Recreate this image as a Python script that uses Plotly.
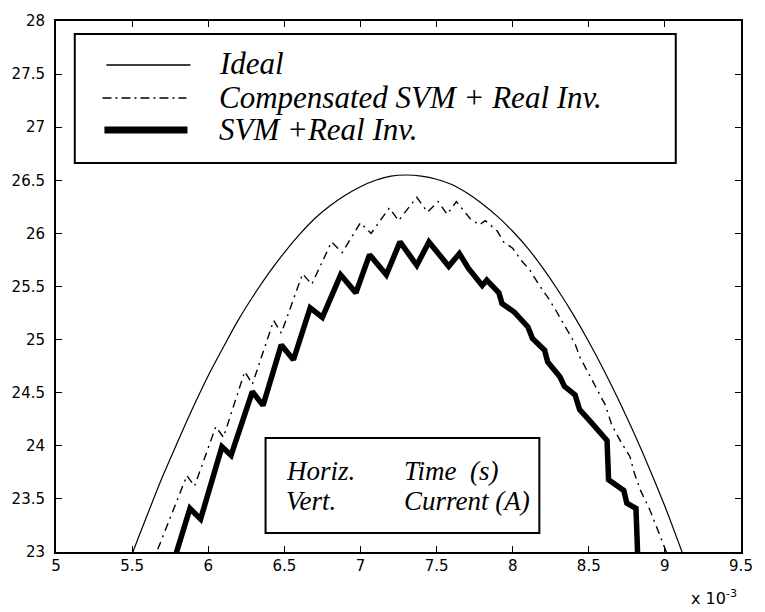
import plotly.graph_objects as go

# Phase current around the positive peak; time in ms (axis scaled x 10^-3 s)
ideal_t = [5.4, 5.5, 5.6, 5.7, 5.8, 5.9, 6.0, 6.1, 6.2, 6.3, 6.4, 6.5, 6.6, 6.7, 6.8,
           6.9, 7.0, 7.1, 7.2, 7.3, 7.4, 7.5, 7.6, 7.7, 7.8, 7.9, 8.0, 8.1, 8.2, 8.3,
           8.4, 8.5, 8.6, 8.7, 8.8, 8.9, 9.0, 9.1, 9.2]
ideal_i = [22.58, 22.98, 23.35, 23.71, 24.04, 24.36, 24.66, 24.93, 25.19, 25.42,
           25.63, 25.82, 25.99, 26.14, 26.26, 26.36, 26.44, 26.50, 26.54, 26.55,
           26.54, 26.51, 26.46, 26.38, 26.28, 26.16, 26.02, 25.86, 25.67, 25.46,
           25.23, 24.98, 24.71, 24.42, 24.11, 23.78, 23.43, 23.05, 22.66]

comp_t = [5.62, 5.86, 5.91, 6.05, 6.10, 6.24, 6.29, 6.43, 6.48, 6.62,
          6.68, 6.81, 6.88, 7.00, 7.07, 7.19, 7.25, 7.37, 7.44, 7.51,
          7.57, 7.63, 7.72, 7.78, 7.82, 7.90, 7.94, 8.00, 8.06, 8.11,
          8.18, 8.23, 8.29, 8.34, 8.41, 8.44, 8.50, 8.57, 8.61, 8.65,
          8.71, 8.77, 8.80, 8.84, 8.90, 8.95, 9.05]
comp_i = [22.85, 23.72, 23.62, 24.18, 24.08, 24.70, 24.58, 25.18, 25.06, 25.62,
          25.52, 25.92, 25.82, 26.10, 26.00, 26.24, 26.12, 26.34, 26.20, 26.30,
          26.18, 26.30, 26.14, 26.08, 26.12, 26.02, 25.92, 25.86, 25.74, 25.66,
          25.50, 25.40, 25.26, 25.14, 24.96, 24.84, 24.68, 24.50, 24.38, 24.20,
          24.04, 23.90, 23.74, 23.58, 23.40, 23.22, 22.85]

svm_t = [5.76, 5.88, 5.95, 6.09, 6.15, 6.29, 6.36, 6.48, 6.56, 6.67,
         6.75, 6.87, 6.97, 7.06, 7.17, 7.26, 7.37, 7.45, 7.58, 7.65,
         7.71, 7.80, 7.83, 7.91, 7.93, 8.01, 8.10, 8.13, 8.21, 8.23,
         8.31, 8.34, 8.41, 8.44, 8.51, 8.62, 8.63, 8.73, 8.75, 8.81,
         8.82, 8.82]
svm_i = [22.85, 23.41, 23.31, 23.99, 23.91, 24.51, 24.38, 24.95, 24.81, 25.30,
         25.21, 25.61, 25.44, 25.80, 25.61, 25.92, 25.70, 25.92, 25.69, 25.81,
         25.67, 25.51, 25.56, 25.44, 25.34, 25.26, 25.12, 25.01, 24.90, 24.79,
         24.65, 24.56, 24.48, 24.34, 24.23, 24.05, 23.68, 23.58, 23.46, 23.41,
         23.02, 22.80]

x_ticks = [5, 5.5, 6, 6.5, 7, 7.5, 8, 8.5, 9, 9.5]
x_labels = ["5", "5.5", "6", "6.5", "7", "7.5", "8", "8.5", "9", "9.5"]
y_ticks = [23, 23.5, 24, 24.5, 25, 25.5, 26, 26.5, 27, 27.5, 28]
y_labels = ["23", "23.5", "24", "24.5", "25", "25.5", "26", "26.5", "27", "27.5", "28"]

legend_names = ["Ideal", "Compensated SVM + Real Inv.", "SVM +Real Inv."]

W, H = 765, 612
L, R, T, B = 56, 749, 21, 552


def px_x(p):
    return (p - L) / (R - L)


def px_y(p):
    return (B - p) / (B - T)


DASHDOT = "8px,5px,2px,5px"

fig = go.Figure()
fig.add_trace(go.Scatter(x=ideal_t, y=ideal_i, mode="lines", line_shape="spline",
                         line=dict(color="black", width=1.2), name=legend_names[0]))
fig.add_trace(go.Scatter(x=comp_t, y=comp_i, mode="lines",
                         line=dict(color="black", width=1.4, dash=DASHDOT),
                         name=legend_names[1]))
fig.add_trace(go.Scatter(x=svm_t, y=svm_i, mode="lines",
                         line=dict(color="black", width=5.5), name=legend_names[2]))

axis_common = dict(showline=True, linecolor="black", linewidth=2, mirror="ticks",
                   ticks="inside", ticklen=6, tickwidth=1.2, tickcolor="black",
                   showgrid=False, zeroline=False,
                   tickfont=dict(family="DejaVu Sans", size=15, color="black"))

fig.update_xaxes(range=[5, 9.5], tickvals=x_ticks, ticktext=x_labels,
                 ticklabelstandoff=-1, **axis_common)
fig.update_yaxes(range=[23, 28], tickvals=y_ticks, ticktext=y_labels,
                 ticklabelstandoff=6, **axis_common)

shapes = []
annotations = []

# legend frame with line samples
shapes.append(dict(type="rect", xref="paper", yref="paper",
                   x0=px_x(75), x1=px_x(683), y0=px_y(163), y1=px_y(34),
                   line=dict(color="black", width=2), fillcolor="white", layer="above"))
samples = [(107, 192, 65, 1.4, "solid"), (103, 188, 98, 1.6, "9px,4px,2px,4px"),
           (105, 189, 130, 7, "solid")]
rows = [65, 98, 130]
for (x0, x1, yy, w, d), name, ry in zip(samples, legend_names, rows):
    shapes.append(dict(type="line", xref="paper", yref="paper",
                       x0=px_x(x0), x1=px_x(x1), y0=px_y(yy), y1=px_y(yy),
                       line=dict(color="black", width=w, dash=d), layer="above"))
    annotations.append(dict(xref="paper", yref="paper", x=px_x(219), y=px_y(ry - 1),
                            xanchor="left", yanchor="middle", showarrow=False,
                            text="<i>" + name + "</i>",
                            font=dict(family="Liberation Serif", size=31, color="black")))

# axis description box
shapes.append(dict(type="rect", xref="paper", yref="paper",
                   x0=px_x(268), x1=px_x(545), y0=px_y(533), y1=px_y(438),
                   line=dict(color="black", width=2), fillcolor="white", layer="above"))
info = [(287, 471, "Horiz."), (406, 471, "Time&nbsp; (s)"), (287, 501, "Vert."),
        (406, 501, "Current (A)")]
for xx, yy, txt in info:
    annotations.append(dict(xref="paper", yref="paper", x=px_x(xx), y=px_y(yy),
                            xanchor="left", yanchor="middle", showarrow=False,
                            text="<i>" + txt + "</i>",
                            font=dict(family="Liberation Serif", size=27, color="black")))

# axis multiplier
annotations.append(dict(xref="paper", yref="paper", x=px_x(696), y=px_y(585),
                        xanchor="left", yanchor="top", showarrow=False,
                        text="x 10<sup>-3</sup>",
                        font=dict(family="DejaVu Sans", size=16, color="black")))

fig.update_layout(width=W, height=H, margin=dict(l=L, r=W - R, t=T, b=H - B),
                  paper_bgcolor="white", plot_bgcolor="white", showlegend=False,
                  shapes=shapes, annotations=annotations)

fig.write_html("out.html")
